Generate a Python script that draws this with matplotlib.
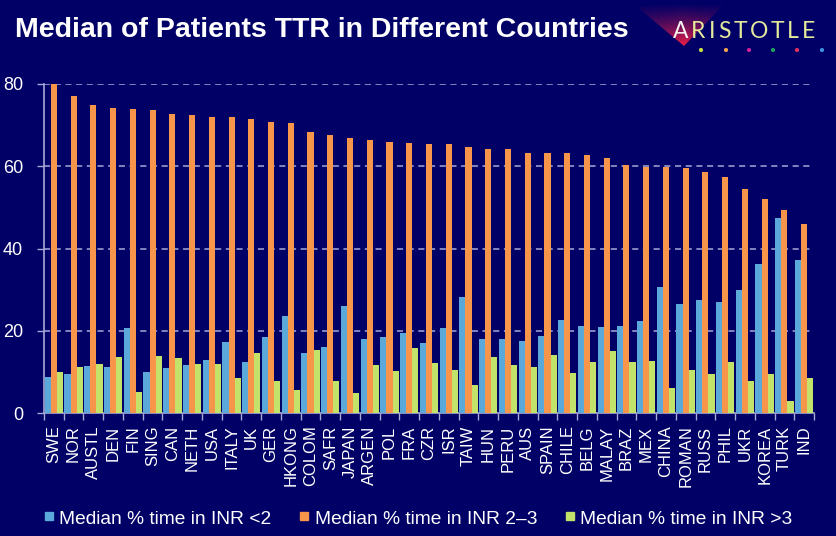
import matplotlib
matplotlib.use("Agg")
import matplotlib.pyplot as plt
import numpy as np
from matplotlib.patches import Polygon, Rectangle

countries = ["SWE", "NOR", "AUSTL", "DEN", "FIN", "SING", "CAN", "NETH", "USA", "ITALY",
             "UK", "GER", "HKONG", "COLOM", "SAFR", "JAPAN", "ARGEN", "POL", "FRA", "CZR",
             "ISR", "TAIW", "HUN", "PERU", "AUS", "SPAIN", "CHILE", "BELG", "MALAY", "BRAZ",
             "MEX", "CHINA", "ROMAN", "RUSS", "PHIL", "UKR", "KOREA", "TURK", "IND"]
below2 = [8.7, 9.6, 11.4, 11.3, 20.6, 10.0, 10.9, 11.6, 12.8, 17.2,
          12.5, 18.4, 23.6, 14.6, 16.1, 26.1, 18.0, 18.5, 19.4, 16.9,
          20.7, 28.1, 18.1, 18.0, 17.4, 18.8, 22.6, 21.1, 21.0, 21.1,
          22.3, 30.6, 26.6, 27.4, 27.0, 30.0, 36.3, 47.3, 37.1]
in2_3 = [80.0, 77.0, 74.8, 74.2, 74.0, 73.7, 72.7, 72.5, 72.0, 72.0,
         71.5, 70.8, 70.5, 68.4, 67.6, 66.9, 66.3, 65.9, 65.6, 65.5,
         65.3, 64.6, 64.3, 64.3, 63.3, 63.3, 63.2, 62.8, 62.1, 60.2,
         59.9, 59.9, 59.5, 58.7, 57.3, 54.4, 52.1, 49.4, 46.0]
above3 = [10.0, 11.3, 11.9, 13.6, 5.1, 13.9, 13.3, 11.8, 11.8, 8.5,
          14.7, 7.9, 5.7, 15.4, 7.9, 4.9, 11.7, 10.1, 15.9, 12.1,
          10.5, 6.9, 13.7, 11.7, 11.2, 14.1, 9.8, 12.4, 15.1, 12.4,
          12.6, 6.2, 10.4, 9.4, 12.4, 7.9, 9.4, 2.8, 8.5]
series_labels = ["Median % time in INR <2", "Median % time in INR 2\u20133", "Median % time in INR >3"]
yticks = [0, 20, 40, 60, 80]
logo_text = "ARISTOTLE"

BG = "#000066"
C_BLUE = "#5BA8DA"
C_ORANGE = "#F7954A"
C_GREEN = "#C3E26A"
LAV = "#A8A8D8"
W, H = 836, 536

fig = plt.figure(figsize=(W / 100, H / 100), dpi=100, facecolor=BG)
ax = fig.add_axes([44 / W, 1 - 413 / H, 770 / W, (413 - 84) / H], facecolor=BG)

x = np.arange(len(countries))
bw = 0.31
ax.bar(x - bw, below2, bw, color=C_BLUE, zorder=3)
ax.bar(x, in2_3, bw, color=C_ORANGE, zorder=3)
ax.bar(x + bw, above3, bw, color=C_GREEN, zorder=3)

ax.set_xlim(-0.5, len(countries) - 0.5)
ax.set_ylim(0, 80)
ax.set_yticks(yticks)
ax.set_yticklabels([str(v) for v in yticks], color="white", fontsize=13, family="Liberation Sans")
ax.set_xticks(x)
ax.set_xticklabels(countries, rotation=90, color="white", fontsize=12, family="Liberation Sans")
ax.set_xticks(np.arange(len(countries) + 1) - 0.5, minor=True)
ax.tick_params(axis="x", which="major", length=0, pad=9)
ax.tick_params(axis="x", which="minor", length=5, color=LAV, width=1)
ax.tick_params(axis="y", length=5, color=LAV, width=1, pad=10)

for v in yticks[1:]:
    ax.axhline(v, color=LAV, lw=1.1, ls=(0, (4, 3)), zorder=1)

for s in ["top", "right"]:
    ax.spines[s].set_visible(False)
for s in ["left", "bottom"]:
    ax.spines[s].set_color(LAV)
    ax.spines[s].set_linewidth(1.2)

# title
fig.text(15 / W, 1 - 37 / H, "Median of Patients TTR in Different Countries", color="white",
         fontsize=20.5, fontweight="bold", family="Liberation Sans", va="baseline", ha="left")

# logo glow
lax = fig.add_axes([0, 0, 1, 1], facecolor="none")
lax.set_xlim(0, W)
lax.set_ylim(H, 0)
lax.axis("off")
n = 60
grad = np.zeros((n, n, 4))
ty = np.linspace(0, 1, n)[:, None]
tx = np.linspace(0, 1, n)[None, :]
grad[..., 0] = 0.92
grad[..., 1] = 0.12
grad[..., 2] = 0.28
alpha = np.clip(ty ** 1.2 * (1 - 0.6 * np.abs(tx - 0.55)), 0, 1)
grad[..., 3] = alpha
im = lax.imshow(grad, extent=(636, 726, 46, 2), aspect="auto", zorder=1)
poly = Polygon([(636, 6), (726, 2), (684, 46)], closed=True, transform=lax.transData)
im.set_clip_path(poly)

# ARISTOTLE, letter by letter with tracking to span the logo width
fig.canvas.draw()
renderer = fig.canvas.get_renderer()
letter_objs = []
for i, ch in enumerate(logo_text):
    col = "#F6F0F0" if i == 0 else "#E4EA9C"
    t = fig.text(0, 1 - 38 / H, ch, color=col, fontsize=16.5, family="Lato",
                 fontweight="normal", va="baseline", ha="left", zorder=5)
    letter_objs.append(t)
widths = [t.get_window_extent(renderer).width for t in letter_objs]
x0, x1 = 673, 815
extra = (x1 - x0 - sum(widths)) / (len(widths) - 1)
cx = x0
for t, w_ in zip(letter_objs, widths):
    t.set_x(cx / W)
    cx += w_ + extra

dot_x = [701, 726, 749, 773, 797, 822]
dot_c = ["#C8E040", "#F0A050", "#D020A0", "#20A060", "#E03060", "#4090E0"]
lax.scatter(dot_x, [50] * len(dot_x), s=9, c=dot_c, zorder=5, linewidths=0)

# legend
leg_sq_x = [45, 300, 566]
leg_tx_x = [59, 315, 580]
colors = [C_BLUE, C_ORANGE, C_GREEN]
for sx, tx_, c, lab in zip(leg_sq_x, leg_tx_x, colors, series_labels):
    lax.add_patch(Rectangle((sx, 512), 8, 8, color=c, zorder=5))
    lax.text(tx_, 524.5, lab, color="white", fontsize=13.8, family="Liberation Sans",
             va="baseline", ha="left")

fig.savefig("out.png", dpi=100, facecolor=BG)
